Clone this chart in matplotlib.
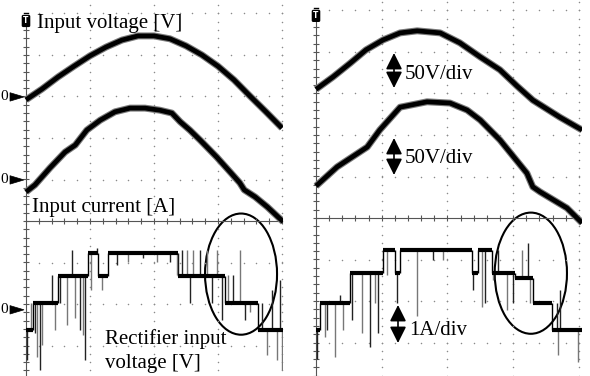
import numpy as np
import matplotlib
matplotlib.use("Agg")
import matplotlib.pyplot as plt
from matplotlib.patches import Ellipse, Polygon, FancyArrowPatch
import matplotlib.transforms as mtransforms

plt.rcParams['font.family'] = ['Liberation Serif', 'DejaVu Serif']

# ---------------- data (oscilloscope screen divisions) ----------------
# Left capture
left_vin_t = [0.00, 0.25, 0.50, 0.75, 1.00, 1.25, 1.50, 1.75, 2.00, 2.25, 2.50, 2.75, 3.00, 3.25, 3.50, 3.75, 4.00]
left_vin_y = [2.92, 3.18, 3.47, 3.73, 3.98, 4.19, 4.36, 4.46, 4.46, 4.39, 4.22, 4.00, 3.73, 3.40, 3.01, 2.63, 2.24]

left_iin_t = [0.00, 0.14, 0.375, 0.61, 0.77, 0.95, 1.16, 1.39, 1.625, 1.86, 2.09, 2.28, 2.41, 2.56, 2.72, 2.98, 3.19, 3.34, 3.41, 3.58, 3.77, 4.02]
left_iin_y = [0.70, 0.87, 1.28, 1.66, 1.83, 2.19, 2.43, 2.63, 2.72, 2.72, 2.67, 2.60, 2.39, 2.19, 1.95, 1.54, 1.18, 0.92, 0.75, 0.58, 0.34, -0.02]

left_rect_t = [0.00, 0.11, 0.50, 0.97, 1.12, 1.28, 2.38, 3.11, 3.63]
left_rect_v = [-2.63, -1.98, -1.33, -0.78, -1.33, -0.78, -1.33, -1.98, -2.63]
left_rect_end = 4.02
left_spike_t = [0.02, 0.08, 0.14, 0.17, 0.22, 0.25, 0.41, 0.45, 0.53, 0.64, 0.72, 0.77, 0.84, 0.89, 0.92,
                1.02, 1.11, 1.19, 1.42, 1.59, 1.83, 2.05, 2.25, 2.36,
                2.44, 2.52, 2.56, 2.61, 2.72, 2.83, 2.91, 2.98, 3.06,
                3.16, 3.23, 3.34, 3.42, 3.50, 3.69, 3.77, 3.84, 3.92, 3.97, 4.00]
left_spike_v = [-3.35, -1.98, -2.70, -3.28, -3.59, -2.99, -1.30, -2.63, -1.98, -2.51, -0.70, -2.34, -2.63, -2.75, -3.35,
                -1.66, -0.65, -1.66, -1.06, -0.99, -0.89, -0.99, -0.99, -1.30,
                -0.70, -0.70, -1.98, -0.70, -0.70, -0.70, -1.98, -0.70, -2.39,
                -1.30, -1.30, -0.70, -2.39, -2.20, -1.98, -3.23, -1.66, -3.35, -1.42, -3.59]
left_zero_levels = [2.99, 0.99, -2.14]

# Right capture
right_vin_t = [0.00, 0.26, 0.52, 0.76, 1.02, 1.28, 1.54, 1.89, 2.19, 2.50, 2.80, 3.06, 3.30, 3.71, 4.05]
right_vin_y = [3.10, 3.40, 3.73, 4.05, 4.29, 4.46, 4.51, 4.46, 4.22, 3.88, 3.57, 3.18, 2.84, 2.43, 2.12]

right_iin_t = [0.00, 0.32, 0.78, 0.97, 1.28, 1.69, 2.04, 2.30, 2.50, 2.80, 3.21, 3.30, 3.41, 3.82, 4.05]
right_iin_y = [0.77, 1.23, 1.71, 2.12, 2.67, 2.80, 2.77, 2.60, 2.36, 1.88, 1.08, 0.75, 0.63, 0.24, -0.12]

right_rect_t = [0.00, 0.06, 0.52, 1.02, 1.20, 1.28, 2.37, 2.47, 2.68, 3.03, 3.30, 3.59]
right_rect_v = [-2.70, -2.06, -1.33, -0.77, -1.33, -0.77, -1.33, -0.77, -1.33, -1.45, -2.06, -2.70]
right_rect_end = 4.05
right_spike_t = [0.02, 0.14, 0.17, 0.29, 0.37, 0.41, 0.55, 0.70, 0.82, 0.90, 0.94, 1.08, 1.23, 1.54, 1.78, 1.93,
                 2.39, 2.53, 2.57, 2.69, 2.77, 2.91, 3.00, 3.14, 3.23, 3.26, 3.67, 3.68, 3.71, 3.99]
right_spike_v = [-3.40, -2.87, -2.70, -3.35, -1.86, -2.70, -2.46, -2.77, -3.11, -2.05, -2.77, -1.37, -2.05, -2.36, -1.00, -1.00,
                 -1.73, -2.14, -2.05, -1.49, -0.77, -2.22, -2.05, -0.77, -0.60, -2.05, -2.05, -3.30, -1.73, -3.47]

# ---------------- figure ----------------
W, H = 590, 376
fig = plt.figure(figsize=(W / 100, H / 100), dpi=100)
fig.patch.set_facecolor('white')


def fx(px):
    return px / W


def fy(py):
    return 1 - py / H


def make_axes(x0px, pxdiv_x, y0px, pxdiv_y, xmin, xmax):
    left = x0px + xmin * pxdiv_x
    right = x0px + xmax * pxdiv_x
    ax = fig.add_axes([fx(left), 0, (right - left) / W, 1])
    ax.set_xlim(xmin, xmax)
    ax.set_ylim((y0px - H) / pxdiv_y, y0px / pxdiv_y)
    ax.axis('off')
    return ax


def draw_graticule(ax, xmax, ytop_axis, ymarker):
    ymin, ymax = ax.get_ylim()
    dot = dict(ls='none', marker='o', ms=1.1, color='#8a8a8a', mec='none')
    # horizontal dotted rows
    xs = np.arange(0.2, xmax + 0.01, 0.2)
    for k in range(int(np.ceil(ymin)), int(np.floor(ymax)) + 1):
        if k == 0:
            continue
        ax.plot(xs, np.full_like(xs, k), **dot)
    # vertical dotted columns
    ys = np.arange(np.ceil(ymin / 0.2) * 0.2, ymax, 0.2)
    for k in range(1, int(np.floor(xmax)) + 1):
        ax.plot(np.full_like(ys, k), ys, **dot)
    # center horizontal axis with ticks
    ax.plot([0, xmax], [0, 0], color='#555555', lw=0.8)
    ax.plot(xs, np.zeros_like(xs), ls='none', marker='|', ms=4.5, mew=0.8, color='#555555')
    # left vertical axis with ticks
    ax.plot([0, 0], [ymin, ytop_axis], color='#555555', lw=0.8)
    yt = np.arange(np.ceil(ymin / 0.2) * 0.2, ytop_axis - 0.1, 0.2)
    ax.plot(np.zeros_like(yt), yt, ls='none', marker='_', ms=4.5, mew=0.8, color='#555555')
    # trigger marker
    ax.text(0, ymarker, 'T', color='white', fontsize=5.5, fontweight='bold', family='DejaVu Sans',
            ha='center', va='center',
            bbox=dict(boxstyle='round,pad=0.12', fc='black', ec='black'))
    ax.plot([-0.035, 0.035], [ymarker + 0.19, ymarker + 0.19], color='black', lw=1.0)


def draw_trace(ax, t, y):
    ax.plot(t, y, color='#7a7a7a', lw=5.0, solid_capstyle='butt', solid_joinstyle='round')
    ax.plot(t, y, color='black', lw=3.4, solid_capstyle='butt', solid_joinstyle='round')


def draw_rect(ax, st, sv, end, sp_t, sp_v):
    st = np.asarray(st)
    sv = np.asarray(sv)
    ends = np.append(st[1:], end)
    ax.vlines(st[1:], sv[:-1], sv[1:], color='black', lw=1.0)
    idx = np.searchsorted(st, np.asarray(sp_t), side='right') - 1
    base = sv[idx]
    cols = ['#222222' if i % 2 == 0 else '#777777' for i in range(len(sp_t))]
    ax.vlines(sp_t, base, sp_v, colors=cols, lw=1.0)
    ax.hlines(sv, st, ends, color='black', lw=3.0)


# ---- left panel ----
axL = make_axes(26, 64, 221, 41.5, -0.1, 4.02)
draw_graticule(axL, 4.02, 4.72, 4.82)
draw_trace(axL, left_vin_t, left_vin_y)
draw_trace(axL, left_iin_t, left_iin_y)
draw_rect(axL, left_rect_t, left_rect_v, left_rect_end, left_spike_t, left_spike_v)
axL.add_patch(Ellipse((3.36, -1.28), 1.125, 2.92, fill=False, ec='black', lw=1.5))

# ---- right panel ----
axR = make_axes(316, 65.7, 218, 41.5, -0.1, 4.05)
draw_graticule(axR, 4.05, 4.75, 4.87)
draw_trace(axR, right_vin_t, right_vin_y)
draw_trace(axR, right_iin_t, right_iin_y)
draw_rect(axR, right_rect_t, right_rect_v, right_rect_end, right_spike_t, right_spike_v)
axR.add_patch(Ellipse((3.27, -1.33), 1.10, 2.92, fill=False, ec='black', lw=1.5))

# ---- zero-level markers (left side) ----
trL = mtransforms.blended_transform_factory(fig.transFigure, axL.transData)
for lv in left_zero_levels:
    d = 4.2 / 41.5
    fig.add_artist(Polygon([[fx(10), lv + d], [fx(24), lv], [fx(10), lv - d]], closed=True,
                           fc='black', ec='black', lw=0.5, transform=trL))
    fig.text(fx(0.5), lv, '0', transform=trL, ha='left', va='center', fontsize=11)

# ---- labels ----
fs = 15
fig.text(fx(37), fy(28), 'Input voltage [V]', fontsize=fs, va='baseline', ha='left')
fig.text(fx(32), fy(212), 'Input current [A]', fontsize=fs, va='baseline', ha='left')
fig.text(fx(105), fy(344), 'Rectifier input', fontsize=fs, va='baseline', ha='left')
fig.text(fx(105), fy(368), 'voltage [V]', fontsize=fs, va='baseline', ha='left')
fig.text(fx(405), fy(79), '50V/div', fontsize=fs, va='baseline', ha='left')
fig.text(fx(405), fy(163), '50V/div', fontsize=fs, va='baseline', ha='left')
fig.text(fx(409), fy(335), '1A/div', fontsize=fs, va='baseline', ha='left')

for (xa, ya0, ya1) in [(394, 53, 88), (394, 138, 175), (398, 305, 343)]:
    arr = FancyArrowPatch((fx(xa), fy(ya0)), (fx(xa), fy(ya1)), transform=fig.transFigure,
                          arrowstyle='<|-|>,head_length=0.9,head_width=0.45', mutation_scale=11,
                          color='black', lw=1.2, shrinkA=0, shrinkB=0)
    fig.add_artist(arr)

fig.savefig('out.png', dpi=100, facecolor='white')
